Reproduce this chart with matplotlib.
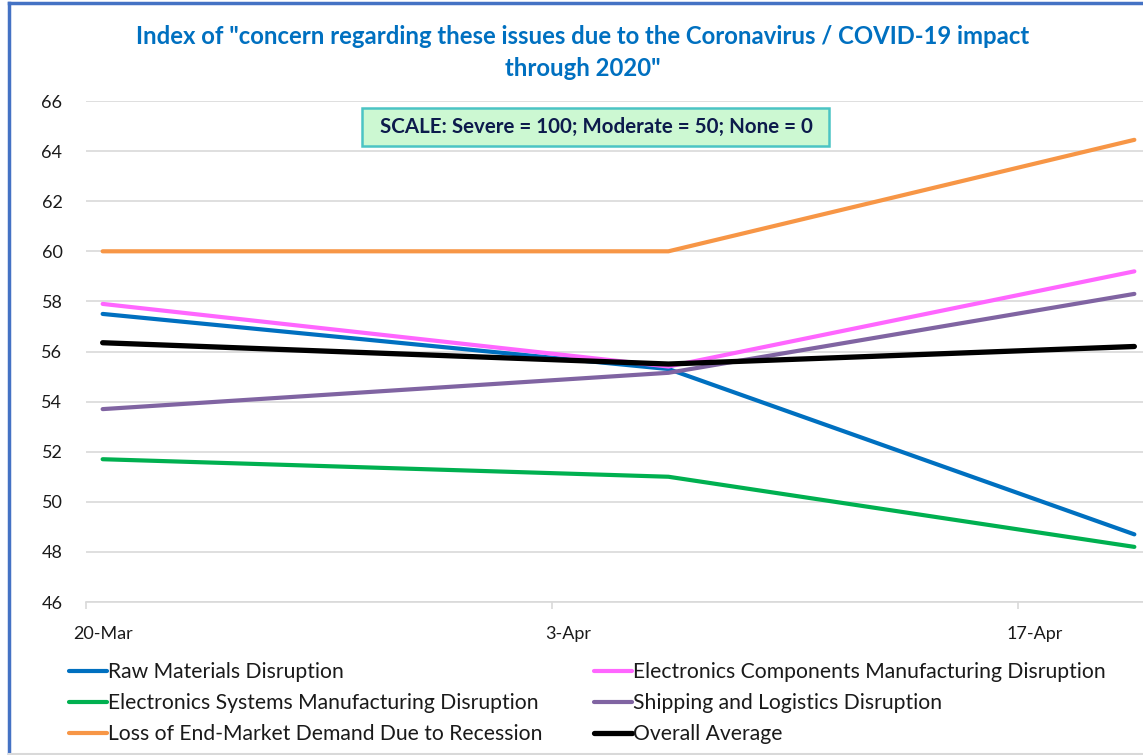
import matplotlib
matplotlib.use("Agg")
import matplotlib.pyplot as plt
import matplotlib.dates as mdates
from matplotlib.lines import Line2D
from matplotlib.patches import Rectangle
import pandas as pd

# survey dates and values
dates = pd.to_datetime(["2020-03-20", "2020-04-06", "2020-04-20"])
raw_materials = [57.5, 55.3, 48.7]
components = [57.9, 55.4, 59.2]
systems = [51.7, 51.0, 48.2]
shipping = [53.7, 55.15, 58.3]
end_market = [60.0, 60.0, 64.45]
overall = [56.35, 55.5, 56.2]

tick_dates = pd.to_datetime(["2020-03-20", "2020-04-03", "2020-04-17"])
tick_labels = ["20-Mar", "3-Apr", "17-Apr"]

names = ["Raw Materials Disruption",
         "Electronics Components Manufacturing Disruption",
         "Electronics Systems Manufacturing Disruption",
         "Shipping and Logistics Disruption",
         "Loss of End-Market Demand Due to Recession",
         "Overall Average"]
series = [raw_materials, components, systems, shipping, end_market, overall]
colors = ["#0070C0", "#FF66FF", "#00B050", "#8064A2", "#F79646", "#000000"]
widths = [3, 3, 3, 3, 3, 3.8]

plt.rcParams['font.family'] = ['Lato', 'DejaVu Sans']

W, H = 1143, 755
fig = plt.figure(figsize=(W / 100, H / 100), dpi=100)
ax = fig.add_axes([86 / W, 1 - 602 / H, (1151 - 86) / W, (602 - 101) / H])

lines = []
for vals, name, c, lw in zip(series, names, colors, widths):
    ln, = ax.plot(dates, vals, color=c, lw=lw, label=name, solid_capstyle='round')
    lines.append(ln)

x0 = mdates.date2num(dates[0]) - 0.5
x1 = mdates.date2num(dates[-1]) + 0.5
ax.set_xlim(x0, x1)
ax.set_ylim(46, 66)
ax.set_yticks(range(46, 67, 2))

# date axis: tick marks on day boundaries, labels at day centres
tnum = mdates.date2num(tick_dates)
ax.set_xticks(tnum - 0.5)
ax.set_xticklabels([])
ax.set_xticks(tnum, minor=True)
ax.set_xticklabels(tick_labels, minor=True)
ax.tick_params(axis='x', which='major', length=5, color='#D9D9D9', width=1.2)
ax.tick_params(axis='x', which='minor', length=0, pad=17, labelsize=13, labelcolor='#1a1a1a')
ax.tick_params(axis='y', length=0, pad=17, labelsize=13, labelcolor='#1a1a1a')

ax.grid(axis='y', color='#D9D9D9', lw=1.2)
ax.set_axisbelow(True)
for s in ['top', 'right', 'left']:
    ax.spines[s].set_visible(False)
ax.spines['bottom'].set_color('#D9D9D9')
ax.spines['bottom'].set_linewidth(1.2)

fig.text(583 / W, 1 - 36 / H,
         'Index of "concern regarding these issues due to the Coronavirus / COVID-19 impact',
         ha='center', va='center', fontsize=17.2, fontweight='bold', color='#0070C0')
fig.text(583 / W, 1 - 68 / H, 'through 2020"',
         ha='center', va='center', fontsize=17.2, fontweight='bold', color='#0070C0')

# scale note box
fig.patches.append(Rectangle((362 / W, 1 - 146 / H), (829 - 362) / W, 38 / H,
                             transform=fig.transFigure, facecolor='#CCF8D2',
                             edgecolor='#4BC4C4', lw=1.8, zorder=5))
fig.text(596 / W, 1 - 127 / H, 'SCALE: Severe = 100; Moderate = 50; None = 0',
         ha='center', va='center', fontsize=14.8, fontweight='bold', color='#0D1B4C', zorder=6)

# legend in two columns
col1 = [lines[0], lines[2], lines[4]]
col2 = [lines[1], lines[3], lines[5]]
for hs, xl in [(col1, 69), (col2, 594)]:
    fig.legend(handles=hs, loc='upper left', bbox_to_anchor=(xl / W, 1 - 662 / H),
               frameon=False, fontsize=15.2, handlelength=1.8, handletextpad=0.05,
               borderpad=0, borderaxespad=0, labelspacing=0.52, labelcolor='#1a1a1a')

# chart frame
fig.add_artist(Line2D([9 / W, 9 / W], [0, 1 - 3 / H], transform=fig.transFigure,
                      color='#4472C4', lw=2.5))
fig.add_artist(Line2D([9 / W, 1], [1 - 3 / H, 1 - 3 / H], transform=fig.transFigure,
                      color='#4472C4', lw=2.5))
fig.add_artist(Line2D([9 / W, 1], [1 / H, 1 / H], transform=fig.transFigure,
                      color='#D9D9D9', lw=1.5))

fig.savefig('out.png', dpi=100)
